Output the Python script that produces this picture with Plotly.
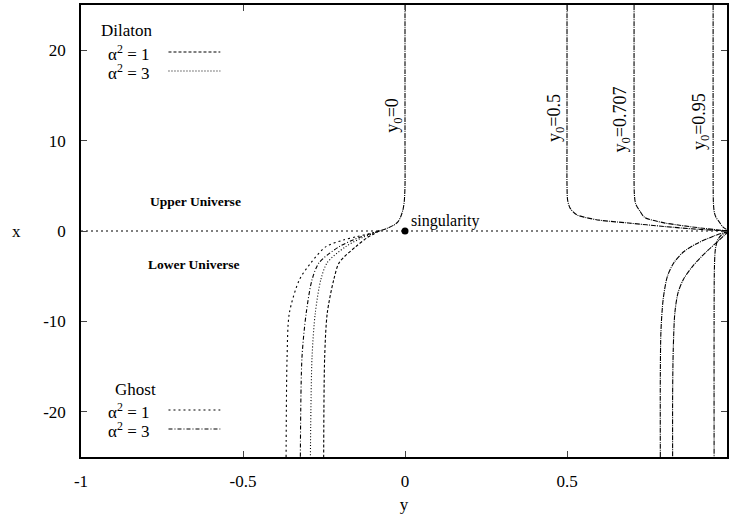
import plotly.graph_objects as go

# ---------------- data ----------------
# horizontal axis = "y", vertical axis = "x"
# y0 = 0 : common upper branch
up0_y = [0.0, 0.0, 0.0, -0.002, -0.006, -0.013, -0.022, -0.034, -0.055, -0.08]
up0_x = [25, 10, 5, 3.4, 2.4, 1.6, 1.0, 0.66, 0.3, 0.0]

# y0 = 0 : lower-universe branches (4 models)
ghost1_y = [-0.08, -0.11, -0.15, -0.19, -0.244, -0.29, -0.326, -0.357, -0.364, -0.367]
ghost1_x = [0.0, -0.3, -0.63, -1.0, -1.73, -3.5, -5.4, -9.1, -14, -25]
ghost3_y = [-0.08, -0.105, -0.14, -0.203, -0.265, -0.287, -0.305, -0.318, -0.323]
ghost3_x = [0.0, -0.3, -0.7, -1.73, -3.5, -5.4, -9.1, -14, -25]
dil3_y = [-0.08, -0.1, -0.13, -0.183, -0.24, -0.26, -0.277, -0.287, -0.292]
dil3_x = [0.0, -0.3, -0.7, -1.73, -3.5, -5.4, -9.1, -14, -25]
dil1_y = [-0.08, -0.095, -0.115, -0.152, -0.203, -0.22, -0.24, -0.248, -0.251]
dil1_x = [0.0, -0.3, -0.7, -1.73, -3.5, -5.4, -9.1, -14, -25]

# y0 = 0.5, 0.707, 0.95 : upper branches
c05_y = [0.5, 0.5, 0.5, 0.502, 0.51, 0.53, 0.557, 0.6, 0.69, 0.8, 0.9, 1.0]
c05_x = [25, 10, 5, 3.4, 2.5, 1.8, 1.5, 1.2, 0.88, 0.5, 0.2, 0.0]
c07_y = [0.707, 0.707, 0.708, 0.712, 0.725, 0.74, 0.8, 0.843, 0.92, 1.0]
c07_x = [25, 10, 4, 3, 2.2, 1.5, 0.9, 0.66, 0.3, 0.0]
c95_y = [0.951, 0.951, 0.952, 0.955, 0.96, 0.97, 0.98, 1.0]
c95_x = [25, 10, 3, 2, 1.5, 1.0, 0.5, 0.0]

# lower branches on the right
l05_y = [1.0, 0.95, 0.9, 0.86, 0.83, 0.81, 0.797, 0.79, 0.788, 0.788]
l05_x = [0.0, -0.6, -1.4, -2.3, -3.5, -5.0, -7.5, -11, -16, -25]
l07_y = [1.0, 0.97, 0.93, 0.89, 0.86, 0.843, 0.833, 0.828, 0.826, 0.826]
l07_x = [0.0, -1.0, -2.3, -3.8, -5.3, -6.8, -9.0, -13, -18, -25]
l95_y = [1.0, 0.975, 0.965, 0.958, 0.955, 0.954, 0.954]
l95_x = [0.0, -0.5, -1, -2, -4, -10, -25]

sing_y, sing_x = [0.0], [0.0]
horizon_y = [-1.0, 1.0]
horizon_x = [0.0, 0.0]

y0_labels = ["y<sub>0</sub>=0", "y<sub>0</sub>=0.5", "y<sub>0</sub>=0.707", "y<sub>0</sub>=0.95"]
y0_label_pos_y = [-0.036, 0.463, 0.669, 0.912]
y0_label_pos_x = [12.8, 12.5, 12.3, 12.1]

xticks = [-1, -0.5, 0, 0.5, 1]
xticklabels = ["-1", "-0.5", "0", "0.5", "1"]
yticks = [-20, -10, 0, 10, 20]
yticklabels = ["-20", "-10", "0", "10", "20"]

FONT = "Liberation Serif"
DASH_D1 = "3px,2px"
DASH_D3 = "1px,2px"
DASH_G1 = "2px,3px"
DASH_G3 = "4px,2px,1px,2px"
DASH_UP = "5px,1px,1px,1px"

fig = go.Figure()


def line(xh, xv, dash, w=1.1):
    fig.add_trace(go.Scatter(x=xh, y=xv, mode="lines",
                             line=dict(color="black", width=w, dash=dash, shape="spline", smoothing=0.8),
                             showlegend=False, hoverinfo="skip"))


line(horizon_y, horizon_x, DASH_G1, 1.2)
line(up0_y, up0_x, DASH_UP)
line(ghost1_y, ghost1_x, DASH_G1)
line(ghost3_y, ghost3_x, DASH_G3)
line(dil3_y, dil3_x, DASH_D3)
line(dil1_y, dil1_x, DASH_D1)
for a, b in [(c05_y, c05_x), (c07_y, c07_x), (c95_y, c95_x), (l05_y, l05_x), (l07_y, l07_x), (l95_y, l95_x)]:
    line(a, b, DASH_UP)

fig.add_trace(go.Scatter(x=sing_y, y=sing_x, mode="markers",
                         marker=dict(color="black", size=7), showlegend=False, hoverinfo="skip"))

ann = []
ann.append(dict(x=0.012, y=1.1, text="singularity", showarrow=False, xanchor="left", yanchor="middle",
                font=dict(size=16)))
ann.append(dict(x=-0.646, y=3.3, text="<b>Upper Universe</b>", showarrow=False, font=dict(size=13.5)))
ann.append(dict(x=-0.652, y=-3.65, text="<b>Lower Universe</b>", showarrow=False, font=dict(size=13.5)))
for t, px, py in zip(y0_labels, y0_label_pos_y, y0_label_pos_x):
    ann.append(dict(x=px, y=py, text=t, showarrow=False, textangle=-90, font=dict(size=18)))

# legend blocks (text + sample line)
legend_rows = [
    ("Dilaton", None, 22.2),
    ("α<sup>2</sup> = 1", DASH_D1, 19.7),
    ("α<sup>2</sup> = 3", DASH_D3, 17.6),
    ("Ghost", None, -17.5),
    ("α<sup>2</sup> = 1", DASH_G1, -19.9),
    ("α<sup>2</sup> = 3", DASH_G3, -22.0),
]
shapes = []
for txt, dash, yy in legend_rows:
    if dash is None:
        ann.append(dict(x=-0.945 if txt == "Dilaton" else -0.90, y=yy, text=txt, showarrow=False,
                        xanchor="left", yanchor="middle", font=dict(size=17)))
    else:
        ann.append(dict(x=-0.922, y=yy, text=txt, showarrow=False, xanchor="left", yanchor="middle",
                        font=dict(size=17)))
        shapes.append(dict(type="line", x0=-0.73, x1=-0.57, y0=yy + 0.1, y1=yy + 0.1,
                           line=dict(color="black", width=1.1, dash=dash)))

ann.append(dict(xref="paper", yref="paper", x=-0.11, y=0.5, text="x", showarrow=False,
                font=dict(size=17)))

tickfont = dict(family=FONT, size=17, color="black")
fig.update_layout(
    width=729, height=521,
    margin=dict(l=81, r=0, t=5, b=64),
    paper_bgcolor="white", plot_bgcolor="white",
    font=dict(family=FONT, size=17, color="black"),
    annotations=ann, shapes=shapes,
    xaxis=dict(range=[-1, 0.9938], tickvals=xticks, ticktext=xticklabels, ticks="inside", ticklen=6,
               tickwidth=1, mirror="ticks", showline=True, linecolor="black", linewidth=1.5,
               showgrid=False, zeroline=False, ticklabelstandoff=8, tickfont=tickfont,
               title=dict(text="y", standoff=8, font=tickfont)),
    yaxis=dict(range=[-25, 25], tickvals=yticks, ticktext=yticklabels, ticks="inside", ticklen=6,
               tickwidth=1, mirror="ticks", showline=True, linecolor="black", linewidth=1.5,
               showgrid=False, zeroline=False, ticklabelstandoff=10, tickfont=tickfont),
)

fig.write_html("out.html")
